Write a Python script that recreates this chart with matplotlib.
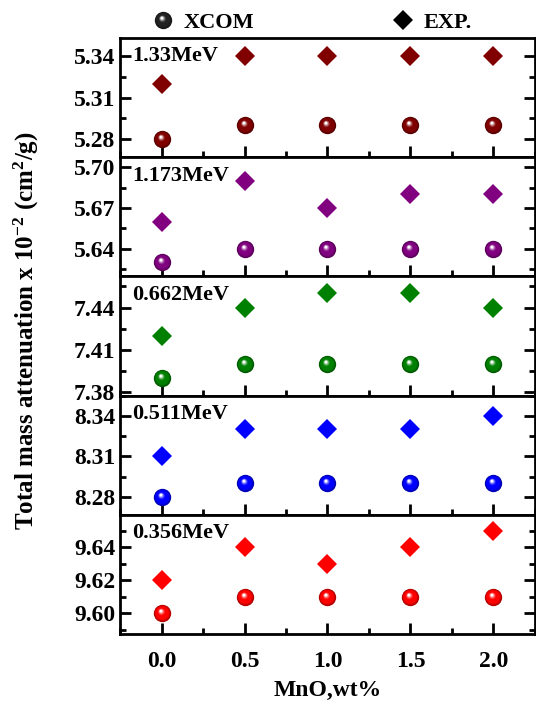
import numpy as np
import matplotlib.pyplot as plt
from matplotlib.path import Path
from matplotlib.lines import Line2D
from matplotlib.legend_handler import HandlerTuple
from matplotlib.colors import to_rgb

plt.rcParams['font.family'] = ['Liberation Serif', 'DejaVu Serif']
plt.rcParams['font.weight'] = 'bold'
plt.rcParams['mathtext.fontset'] = 'custom'
plt.rcParams['mathtext.rm'] = 'Liberation Serif:bold'
plt.rcParams['mathtext.default'] = 'rm'

mno = [0.0, 0.5, 1.0, 1.5, 2.0]
energies = ['1.33MeV', '1.173MeV', '0.662MeV', '0.511MeV', '0.356MeV']
colors = ['#800000', '#800080', '#008000', '#0000ff', '#ff0000']

xcom_133 = [5.28, 5.29, 5.29, 5.29, 5.29]
exp_133 = [5.32, 5.34, 5.34, 5.34, 5.34]
xcom_1173 = [5.63, 5.64, 5.64, 5.64, 5.64]
exp_1173 = [5.66, 5.69, 5.67, 5.68, 5.68]
xcom_0662 = [7.39, 7.40, 7.40, 7.40, 7.40]
exp_0662 = [7.42, 7.44, 7.45, 7.45, 7.44]
xcom_0511 = [8.28, 8.29, 8.29, 8.29, 8.29]
exp_0511 = [8.31, 8.33, 8.33, 8.33, 8.34]
xcom_0356 = [9.60, 9.61, 9.61, 9.61, 9.61]
exp_0356 = [9.62, 9.64, 9.63, 9.64, 9.65]

xcom = [xcom_133, xcom_1173, xcom_0662, xcom_0511, xcom_0356]
exp = [exp_133, exp_1173, exp_0662, exp_0511, exp_0356]

yticks = [[5.28, 5.31, 5.34], [5.64, 5.67, 5.70], [7.38, 7.41, 7.44],
          [8.28, 8.31, 8.34], [9.60, 9.62, 9.64]]
ylims = [(5.267, 5.353), (5.6195, 5.7075), (7.3777, 7.462),
         (8.2667, 8.355), (9.5875, 9.6596)]


def circle_marker(cx, cy, r):
    # circle offset inside a fixed [-1, 1] box so every layer scales the same
    c = Path.circle((cx, cy), r)
    box = [(-1, -1), (1, -1), (1, 1), (-1, 1)]
    verts = list(box) + list(c.vertices)
    codes = [Path.MOVETO] * 4 + list(c.codes)
    return Path(verts, codes)


def sphere_layers(color, n=12):
    base = np.array(to_rgb(color))
    dark = base * 0.7
    layers = [(circle_marker(0, 0, 1.0), dark)]
    for i in range(n):
        t = (i + 1) / n
        r = 0.94 * (1 - t) + 0.14 * t
        cx, cy = -0.18 * t, 0.28 * t
        if t < 0.2:
            col = dark + (base - dark) * (t / 0.2)
        elif t < 0.6:
            col = base
        else:
            col = base + (np.ones(3) - base) * ((t - 0.6) / 0.4) ** 1.3
        layers.append((circle_marker(cx, cy, r), np.clip(col, 0, 1)))
    return layers


def draw_sphere(ax, x, y, color, size=12.5):
    for path, col in sphere_layers(color):
        ax.plot(x, y, linestyle='none', marker=path, markersize=size,
                markerfacecolor=col, markeredgewidth=0, zorder=3)


fig, axes = plt.subplots(nrows=5, ncols=1, figsize=(5.36, 7.04), dpi=100, sharex=True)
plt.subplots_adjust(left=0.224, right=0.998, top=0.946, bottom=0.0994, hspace=0)

for i, ax in enumerate(axes):
    draw_sphere(ax, mno, xcom[i], colors[i])
    ax.plot(mno, exp[i], linestyle='none', marker='D', markersize=10.5,
            color=colors[i], markeredgewidth=0, zorder=3)
    ax.set_yticks(yticks[i])
    step = yticks[i][1] - yticks[i][0]
    ax.set_yticks(np.arange(yticks[i][0] - 2 * step, yticks[i][-1] + 2 * step, step / 2), minor=True)
    ax.set_yticklabels(['%.2f' % v for v in yticks[i]])
    ax.set_ylim(ylims[i])
    ax.text(0.03, 0.93, energies[i], transform=ax.transAxes, fontsize=16,
            fontweight='bold', va='top', ha='left')
    for s in ax.spines.values():
        s.set_linewidth(2)
    ax.tick_params(which='both', direction='in', width=2, right=True, top=False,
                   labelsize=17)
    ax.tick_params(which='major', length=8)
    ax.tick_params(which='minor', length=4)
    if i < 4:
        ax.tick_params(labelbottom=False)

axes[-1].set_xticks([0.0, 0.5, 1.0, 1.5, 2.0])
axes[-1].set_xticks(np.arange(-0.25, 2.3, 0.25), minor=True)
axes[-1].set_xticklabels(['%.1f' % v for v in [0.0, 0.5, 1.0, 1.5, 2.0]])
axes[-1].set_xlim(-0.25, 2.25)
axes[-1].tick_params(axis='x', pad=12)
axes[-1].set_xlabel('MnO,wt%', fontsize=17, fontweight='bold', labelpad=6)

fig.text(0.05, 0.53, 'Total mass attenuation x 10$^{-2}$ (cm$^{2}$/g)', rotation=90,
         ha='center', va='center', fontsize=18, fontweight='bold')

# legend entries: black sphere and diamond, placed separately
sphere_handle = tuple(Line2D([], [], linestyle='none', marker=p, markersize=12.5,
                             markerfacecolor=c, markeredgewidth=0)
                      for p, c in sphere_layers('#222222'))
diamond_handle = Line2D([], [], linestyle='none', marker='D', markersize=10.5,
                        color='black', markeredgewidth=0)
leg_kw = dict(loc='center left', frameon=False, borderpad=0, borderaxespad=0,
              handlelength=1.0, handletextpad=0.4, prop={'weight': 'bold', 'size': 16})
fig.legend([sphere_handle], ['XCOM'], bbox_to_anchor=(152 / 536, 0.968),
           handler_map={tuple: HandlerTuple(ndivide=1, pad=0)}, **leg_kw)
fig.legend([diamond_handle], ['EXP.'], bbox_to_anchor=(392 / 536, 0.968), **leg_kw)

plt.savefig('out.png', dpi=100)
